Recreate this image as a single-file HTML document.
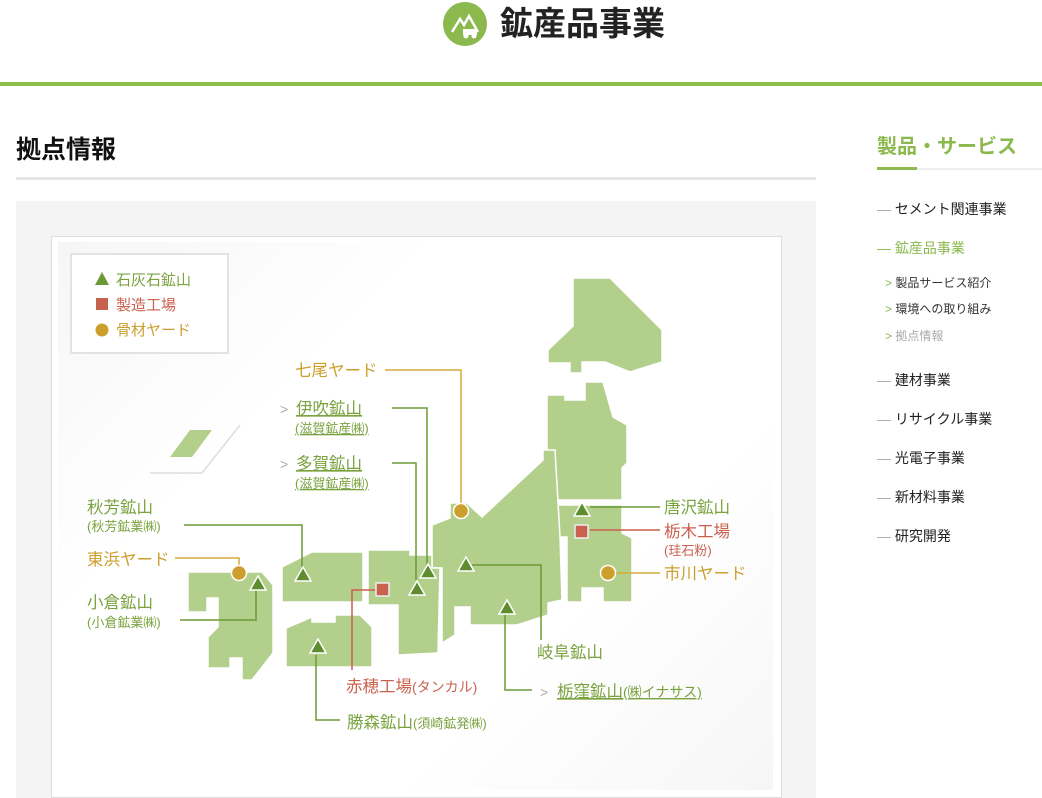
<!DOCTYPE html>
<html><head><meta charset="utf-8"><style>
body{margin:0;width:1042px;height:798px;overflow:hidden;background:#fff;font-family:"Liberation Sans","Noto Sans CJK JP",sans-serif;position:relative}
.a{position:absolute;white-space:nowrap}
</style></head><body>
<div class="a" style="left:443px;top:2px;width:44px;height:44px;border-radius:50%;background:#8cb94e"></div>
<svg class="a" style="left:443px;top:2px" width="44" height="44"><path d="M9 30 L17 17 L21 23 L26 14 L35 30" fill="none" stroke="#fff" stroke-width="2.5"/><rect x="20" y="27" width="14" height="6" fill="#fff"/><circle cx="23" cy="34" r="2.5" fill="#fff"/><circle cx="31" cy="34" r="2.5" fill="#fff"/></svg>
<div class="a" style="left:500px;top:-3px;font-size:33px;font-weight:bold;color:#222">鉱産品事業</div>
<div class="a" style="left:0;top:82px;width:1042px;height:4px;background:#8fc04a"></div>
<div class="a" style="left:16px;top:130px;font-size:25px;font-weight:bold;color:#111">拠点情報</div>
<div class="a" style="left:16px;top:177px;width:800px;height:3px;background:#e6e6e6"></div>
<div class="a" style="left:877px;top:130px;font-size:20px;font-weight:bold;color:#8cb94e;letter-spacing:0px">製品・サービス</div>
<div class="a" style="left:877px;top:168px;width:165px;height:2px;background:#eee"></div>
<div class="a" style="left:877px;top:167px;width:40px;height:3px;background:#8cb94e"></div>
<div class="a" style="left:877px;top:199px;font-size:14px;color:#222;line-height:20px"><span style="color:#aaa">—</span>&nbsp;セメント関連事業</div>
<div class="a" style="left:877px;top:238px;font-size:14px;color:#8cb94e;line-height:20px">—&nbsp;鉱産品事業</div>
<div class="a" style="left:885px;top:275px;font-size:12px;color:#333;line-height:17px"><span style="color:#8cb94e">&gt;</span> 製品サービス紹介</div>
<div class="a" style="left:885px;top:301px;font-size:12px;color:#333;line-height:17px"><span style="color:#8cb94e">&gt;</span> 環境への取り組み</div>
<div class="a" style="left:885px;top:328px;font-size:12px;color:#aaa;line-height:17px"><span style="color:#8cb94e">&gt;</span> 拠点情報</div>
<div class="a" style="left:877px;top:370px;font-size:14px;color:#222;line-height:20px"><span style="color:#aaa">—</span>&nbsp;建材事業</div>
<div class="a" style="left:877px;top:409px;font-size:14px;color:#222;line-height:20px"><span style="color:#aaa">—</span>&nbsp;リサイクル事業</div>
<div class="a" style="left:877px;top:448px;font-size:14px;color:#222;line-height:20px"><span style="color:#aaa">—</span>&nbsp;光電子事業</div>
<div class="a" style="left:877px;top:487px;font-size:14px;color:#222;line-height:20px"><span style="color:#aaa">—</span>&nbsp;新材料事業</div>
<div class="a" style="left:877px;top:526px;font-size:14px;color:#222;line-height:20px"><span style="color:#aaa">—</span>&nbsp;研究開発</div>
<div class="a" style="left:16px;top:201px;width:800px;height:597px;background:#f4f4f4"></div>
<div class="a" style="left:51px;top:236px;width:729px;height:560px;background:#fff;border:1px solid #ddd"></div>
<div class="a" style="left:58px;top:242px;width:715px;height:548px;background:linear-gradient(135deg,#f6f6f6,#fff 30%,#fff 70%,#f6f6f6)"></div>
<svg class="a" style="left:0;top:0" width="1042" height="798" font-family="Liberation Sans,Noto Sans CJK JP,sans-serif">
<rect x="71" y="254" width="157" height="99" fill="#fff" stroke="#e3e3e3" stroke-width="2"/>
<polygon points="95,285 102,272 109,285" fill="#6b9a35"/>
<rect x="96" y="298" width="12" height="12" fill="#c9614f"/>
<circle cx="102" cy="330" r="6.5" fill="#cc9f2c"/>
<text x="116" y="285" font-size="15" fill="#7aa33f">石灰石鉱山</text>
<text x="116" y="310" font-size="15" fill="#c9614f">製造工場</text>
<text x="116" y="335" font-size="15" fill="#cc9f2c">骨材ヤード</text>
<polygon points="170,457 192,457 212,430 190,430" fill="#b3cf8c"/>
<polyline points="150,473 202,473 240,425" fill="none" stroke="#ddd" stroke-width="1.5"/>
<g fill="#b3cf8c" stroke="#fff" stroke-width="1.5">
<polygon points="573,278 610,278 662,330 662,362 630,372 605,362 582,362 582,373 570,373 570,363 548,363 548,350 573,326"/>
<polygon points="547,395 565,395 565,400 585,400 585,382 603,382 613,417 627,425 627,463 622,468 622,500 547,500"/>
<polygon points="547,505 622,505 622,533 632,538 632,602 603,602 603,588 582,588 582,602 567,602 567,537 547,537"/>
<polygon points="432,525 450,518 450,503 467,503 482,517 543,460 543,450 555,450 560,537 562,600 548,603 548,615 517,625 470,625 470,607 455,607 455,635 442,643 442,568 432,568"/>
<polygon points="400,550 410,550 410,555 432,555 432,568 440,568 438,653 398,655 398,605 368,605 368,550 400,550"/>
<polygon points="282,567 312,552 363,552 363,602 282,602"/>
<polygon points="286,628 312,617 312,622 335,622 335,615 360,615 372,627 372,667 286,667"/>
<polygon points="188,572 262,572 273,585 273,653 252,680 242,680 242,658 230,658 230,668 208,668 208,637 218,627 218,598 207,598 207,612 188,612"/>
</g>
<rect x="374" y="605" width="12" height="9" fill="#fff"/>
<g fill="none" stroke-width="1.5">
<polyline points="385,370 461,370 461,503" stroke="#d4aa3a"/>
<polyline points="392,408 427,408 427,565" stroke="#6b9a35"/>
<polyline points="392,463 416,463 416,580" stroke="#6b9a35"/>
<polyline points="184,525 302,525 302,567" stroke="#6b9a35"/>
<polyline points="175,558 239,558 239,565" stroke="#d4aa3a"/>
<polyline points="180,620 256,620 256,590" stroke="#6b9a35"/>
<polyline points="590,507 660,507" stroke="#6b9a35"/>
<polyline points="590,530 660,530" stroke="#c9614f"/>
<polyline points="615,573 660,573" stroke="#d4aa3a"/>
<polyline points="472,565 541,565 541,640" stroke="#6b9a35"/>
<polyline points="505,615 505,690 532,690" stroke="#6b9a35"/>
<polyline points="376,590 352,590 352,670" stroke="#c9614f"/>
<polyline points="316,655 316,720 340,720" stroke="#6b9a35"/>
</g>
<g fill="#5f8c2e" stroke="#fff" stroke-width="1.5">
<polygon points="295,581 303,567 311,581"/><polygon points="250,590 258,576 266,590"/>
<polygon points="310,653 318,639 326,653"/><polygon points="420,578 428,564 436,578"/>
<polygon points="409,595 417,581 425,595"/><polygon points="458,571 466,557 474,571"/>
<polygon points="499,614 507,600 515,614"/><polygon points="574,516 582,502 590,516"/>
</g>
<g fill="#c9614f" stroke="#eee" stroke-width="1.5"><rect x="376" y="583" width="13" height="13"/><rect x="575" y="525" width="13" height="13"/></g>
<g fill="#cc9f2c" stroke="#fff" stroke-width="1.5"><circle cx="461" cy="511" r="7.5"/><circle cx="239" cy="573" r="7.5"/><circle cx="608" cy="573" r="7.5"/></g>
<g font-size="16.5">
<text x="295" y="376" fill="#cc9f2c">七尾ヤード</text>
<text x="280" y="414" fill="#aaa" font-size="14">&gt;</text>
<text x="296" y="414" fill="#7aa33f" text-decoration="underline">伊吹鉱山</text>
<text x="295" y="433" fill="#7aa33f" font-size="13" text-decoration="underline">(滋賀鉱産㈱)</text>
<text x="280" y="469" fill="#aaa" font-size="14">&gt;</text>
<text x="296" y="469" fill="#7aa33f" text-decoration="underline">多賀鉱山</text>
<text x="295" y="488" fill="#7aa33f" font-size="13" text-decoration="underline">(滋賀鉱産㈱)</text>
<text x="87" y="513" fill="#7aa33f">秋芳鉱山</text>
<text x="87" y="531" fill="#7aa33f" font-size="13">(秋芳鉱業㈱)</text>
<text x="87" y="565" fill="#cc9f2c">東浜ヤード</text>
<text x="87" y="608" fill="#7aa33f">小倉鉱山</text>
<text x="87" y="627" fill="#7aa33f" font-size="13">(小倉鉱業㈱)</text>
<text x="664" y="513" fill="#7aa33f">唐沢鉱山</text>
<text x="664" y="537" fill="#c9614f">栃木工場</text>
<text x="664" y="555" fill="#c9614f" font-size="13">(珪石粉)</text>
<text x="664" y="579" fill="#cc9f2c">市川ヤード</text>
<text x="537" y="658" fill="#7aa33f">岐阜鉱山</text>
<text x="540" y="697" fill="#aaa" font-size="14">&gt;</text>
<text x="557" y="697" fill="#7aa33f" text-decoration="underline">栃窪鉱山<tspan font-size="14">(㈱イナサス)</tspan></text>
<text x="346" y="692" fill="#c9614f">赤穂工場<tspan font-size="14">(タンカル)</tspan></text>
<text x="347" y="728" fill="#7aa33f">勝森鉱山<tspan font-size="13">(須崎鉱発㈱)</tspan></text>
</g>
</svg>
</body></html>
